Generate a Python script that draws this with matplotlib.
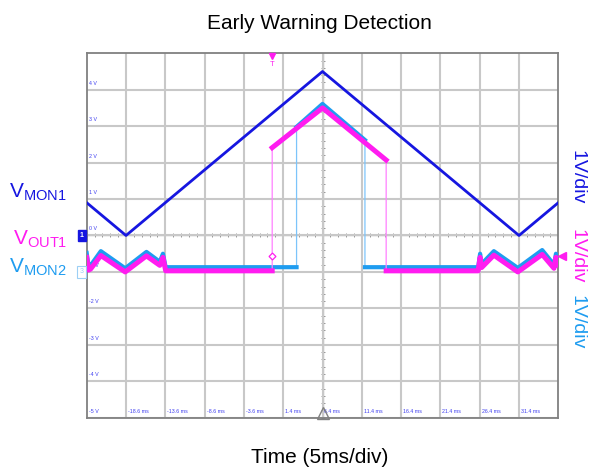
import numpy as np
import matplotlib.pyplot as plt
from matplotlib import transforms

plt.rcParams['font.family'] = ['Liberation Sans', 'DejaVu Sans']
plt.rcParams['mathtext.fontset'] = 'custom'
plt.rcParams['mathtext.rm'] = 'Liberation Sans'

# time in ms (0 = trigger), screen volts (all channels 1 V/div)
t_mon1 = [-23.6, -18.6, 6.4, 31.4, 36.4]
v_mon1 = [0.9, 0.0, 4.5, 0.0, 0.9]

t_mon2 = [-23.6, -23.35, -23.1, -21.8, -18.7, -16.0, -14.3, -13.9, -13.55,
          3.1, 3.1, 6.4, 11.8, 11.8, 26.2, 26.45, 26.65, 28.2, 31.25,
          34.35, 35.85, 36.1, 36.4]
v_mon2 = [-0.48, -0.86, -0.82, -0.43, -0.9, -0.45, -0.72, -0.5, -0.87,
          -0.87, 2.98, 3.61, 2.62, -0.87, -0.87, -0.5, -0.78, -0.43, -0.89,
          -0.4, -0.8, -0.5, -0.7]

t_out1 = [-23.6, -23.35, -23.1, -21.8, -18.7, -16.0, -14.3, -13.9, -13.55,
          0.0, 0.0, 6.4, 14.5, 14.5, 26.2, 26.45, 26.65, 28.2, 31.25,
          34.35, 35.85, 36.1, 36.4]
v_out1 = [-0.6, -0.95, -0.92, -0.55, -1.0, -0.56, -0.82, -0.6, -0.97,
          -0.97, 2.41, 3.5, 2.07, -0.97, -0.97, -0.6, -0.88, -0.54, -1.0,
          -0.52, -0.9, -0.6, -0.8]

x_ticks = [-18.6, -13.6, -8.6, -3.6, 1.4, 6.4, 11.4, 16.4, 21.4, 26.4, 31.4]
x_labels = ['-18.6 ms', '-13.6 ms', '-8.6 ms', '-3.6 ms', '1.4 ms', '6.4 ms',
            '11.4 ms', '16.4 ms', '21.4 ms', '26.4 ms', '31.4 ms']
y_ticks = [4, 3, 2, 1, 0, -1, -2, -3, -4, -5]
y_labels = ['4 V', '3 V', '2 V', '1 V', '0 V', '-1 V', '-2 V', '-3 V', '-4 V', '-5 V']

trig_time = 0.0
trig_level = -0.56
ref_time = 6.4

c_mon1 = '#1616e0'
c_out1 = '#ff1cf0'
c_mon2 = '#1e9cf0'
c_lbl = '#3c3cf0'


def split_steps(t, v):
    # break the line at vertical steps so the noisy band is drawn thick
    ts, vs = [], []
    for i in range(len(t)):
        if i > 0 and t[i] == t[i - 1]:
            ts.append(np.nan)
            vs.append(np.nan)
        ts.append(t[i])
        vs.append(v[i])
    return ts, vs


fig = plt.figure(figsize=(6, 4.69), dpi=100)
ax = fig.add_axes([0.1445, 0.1094, 0.786, 0.777])
ax.set_xlim(-23.6, 36.4)
ax.set_ylim(-5, 5)

# grid
ax.set_xticks(x_ticks)
ax.set_yticks(y_ticks)
ax.grid(color='#c8c8c8', lw=1.5, zorder=0)
ax.tick_params(length=0, labelbottom=False, labelleft=False)
for s in ax.spines.values():
    s.set_color('#808080')
    s.set_linewidth(1.3)

# center crosshair with minor ticks
ax.axhline(0, color='#8c8c8c', lw=0.9, zorder=1)
ax.axvline(ref_time, color='#8c8c8c', lw=0.9, zorder=1)
ax.plot(np.arange(-23.6, 36.4, 1.0), np.zeros(60), ls='none', marker='|',
        ms=2.5, mew=0.7, color='#999999', zorder=1)
ax.plot(np.full(50, ref_time), np.arange(-5, 5, 0.2), ls='none', marker='_',
        ms=2.5, mew=0.7, color='#999999', zorder=1)

# tick labels inside the screen
for xv, lab in zip(x_ticks, x_labels):
    ax.text(xv + 0.25, -4.83, lab, fontsize=3.8, color=c_lbl, ha='left', va='center', zorder=2)
for yv, lab in zip(y_ticks, y_labels):
    ax.text(-23.3, yv + 0.18, lab, fontsize=3.8, color=c_lbl, ha='left', va='center', zorder=2)

# waveforms
ax.plot(t_mon1, v_mon1, color=c_mon1, lw=2.0, zorder=5)

ax.plot(t_mon2, v_mon2, color='#7cc4fa', lw=0.9, zorder=3)
tb, vb = split_steps(t_mon2, v_mon2)
ax.plot(tb, vb, color=c_mon2, lw=3.0, zorder=3, solid_joinstyle='round')

ax.plot(t_out1, v_out1, color='#ff80ff', lw=0.9, zorder=4)
tp, vp = split_steps(t_out1, v_out1)
ax.plot(tp, vp, color=c_out1, lw=3.6, zorder=4, solid_joinstyle='round')

# markers
blend = transforms.blended_transform_factory(ax.transAxes, ax.transData)
ax.text(-0.006, 0, '1', transform=blend, ha='right', va='center', fontsize=5,
        color='white', fontweight='bold',
        bbox=dict(boxstyle='square,pad=0.35', fc=c_mon1, ec=c_mon1), clip_on=False)
ax.text(-0.006, -1, '3', transform=blend, ha='right', va='center', fontsize=5,
        color='#9ccff5',
        bbox=dict(boxstyle='square,pad=0.35', fc='white', ec='#9ccff5', lw=0.8), clip_on=False)
ax.plot([1.007], [trig_level], transform=blend, marker='<', ms=6, color=c_out1,
        clip_on=False, zorder=6)
ax.plot([trig_time], [trig_level], marker='D', ms=3.5, mfc='white', mec=c_out1,
        mew=0.9, zorder=6)

blend_x = transforms.blended_transform_factory(ax.transData, ax.transAxes)
ax.plot([trig_time], [0.992], transform=blend_x, marker='v', ms=4, color=c_out1,
        clip_on=False, zorder=6)
ax.text(trig_time, 0.97, 'T', transform=blend_x, ha='center', va='center',
        fontsize=5.5, color=c_out1, zorder=6)
ax.plot([ref_time], [0.014], transform=blend_x, marker='^', ms=9, mfc='none',
        mec='#808080', mew=1.0, clip_on=False, zorder=6)

# titles and channel labels
fig.text(0.532, 1 - 29 / 469, 'Early Warning Detection', ha='center',
         va='baseline', fontsize=15)
fig.text(0.533, 1 - 463 / 469, 'Time (5ms/div)', ha='center', va='baseline',
         fontsize=15)

fig.text(0.1117, 1 - 198 / 469, r'$\mathrm{V_{MON1}}$', ha='right', va='baseline',
         fontsize=15, color=c_mon1)
fig.text(0.1117, 1 - 245 / 469, r'$\mathrm{V_{OUT1}}$', ha='right', va='baseline',
         fontsize=15, color=c_out1)
fig.text(0.1117, 1 - 273 / 469, r'$\mathrm{V_{MON2}}$', ha='right', va='baseline',
         fontsize=15, color=c_mon2)

fig.text(0.9625, 1 - 177.5 / 469, '1V/div', rotation=270, ha='center',
         va='center', fontsize=14, color=c_mon1)
fig.text(0.9625, 1 - 256.5 / 469, '1V/div', rotation=270, ha='center',
         va='center', fontsize=14, color=c_out1)
fig.text(0.9625, 1 - 322.5 / 469, '1V/div', rotation=270, ha='center',
         va='center', fontsize=14, color=c_mon2)

plt.savefig('out.png')
